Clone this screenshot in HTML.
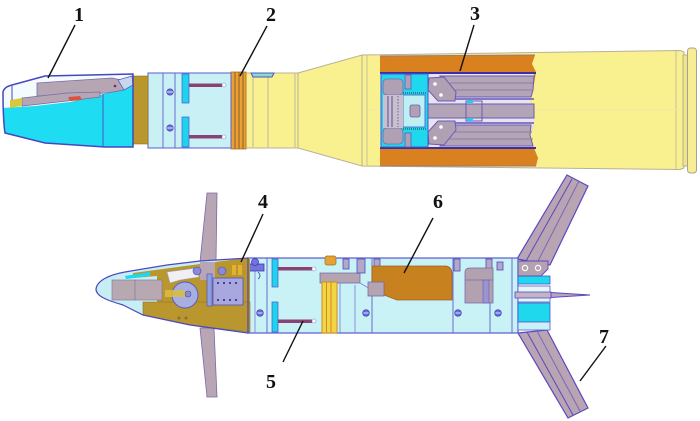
<!DOCTYPE html>
<html>
<head>
<meta charset="utf-8">
<style>
html,body{margin:0;padding:0;background:#fff;}
svg{display:block;}
text{font-family:"Liberation Serif",serif;font-weight:bold;font-size:20px;fill:#111;}
</style>
</head>
<body>
<svg width="700" height="421" viewBox="0 0 700 421" xmlns="http://www.w3.org/2000/svg">
<rect width="700" height="421" fill="#ffffff"/>

<!-- ================= TOP ROUND ================= -->
<!-- cartridge case body -->
<path d="M362,55 L680,50.5 L684,52 L684,168 L680,169.5 L362,166 Z" fill="#F9F18F" stroke="#B9B195" stroke-width="1"/>
<line x1="676" y1="51" x2="676" y2="169" stroke="#C8BE98" stroke-width="1"/>
<rect x="683" y="55" width="5" height="111" fill="#EEE48C" stroke="#B8B090" stroke-width="1"/>
<rect x="687.5" y="48" width="9" height="125" rx="3" fill="#F6ED94" stroke="#A9A190" stroke-width="1"/>
<line x1="362" y1="110" x2="680" y2="110" stroke="#F3E9A8" stroke-width="1"/>
<!-- cone -->
<path d="M298,73 L362,55 L362,166 L298,148 Z" fill="#F9F18F" stroke="#B9B195" stroke-width="1"/>
<line x1="367" y1="55" x2="367" y2="166" stroke="#C8BE98" stroke-width="1"/>
<!-- front yellow section -->
<rect x="246" y="73" width="52" height="75" fill="#F9F18F" stroke="#B9B195" stroke-width="1"/>
<line x1="253" y1="73" x2="253" y2="148" stroke="#D3C99A" stroke-width="1.5"/>
<line x1="268" y1="73" x2="268" y2="148" stroke="#D3C99A" stroke-width="1.5"/>
<line x1="295" y1="73" x2="295" y2="148" stroke="#D3C99A" stroke-width="1.5"/>
<path d="M251,73 L274,73 L272,77 L253,77 Z" fill="#8FD8D0" stroke="#4A58C8" stroke-width="1"/>

<!-- cutaway: orange charge -->
<path d="M380,56 L535,55 L532,64 L536,72 L533,90 L530,100 L534,110 L534,125 L530,135 L534,148 L538,158 L536,166 L380,166 Z" fill="#D9801F"/>
<line x1="380" y1="56" x2="535" y2="55" stroke="#9A7A80" stroke-width="1"/>
<line x1="380" y1="166" x2="536" y2="166" stroke="#9A7A80" stroke-width="1"/>
<!-- inner -->
<path d="M380,73 L534,73 L533,90 L530,100 L534,110 L534,125 L530,135 L534,148 L380,148 Z" fill="#E7E3EF"/>
<line x1="380" y1="73" x2="536" y2="73" stroke="#3C2EA8" stroke-width="2"/>
<line x1="380" y1="148" x2="536" y2="148" stroke="#3C2EA8" stroke-width="2"/>
<!-- long rods -->
<path d="M440,76 L534,76 L533,90 L531,97 L455,97 Z" fill="#B4A4B8" stroke="#6A5AB0" stroke-width="1"/>
<line x1="450" y1="83" x2="533" y2="83" stroke="#8E7EA0" stroke-width="1"/>
<line x1="452" y1="90" x2="533" y2="90" stroke="#8E7EA0" stroke-width="1"/>
<path d="M455,125 L531,125 L530,135 L533,146 L440,146 Z" fill="#B4A4B8" stroke="#6A5AB0" stroke-width="1"/>
<line x1="452" y1="132" x2="532" y2="132" stroke="#8E7EA0" stroke-width="1"/>
<line x1="450" y1="139" x2="533" y2="139" stroke="#8E7EA0" stroke-width="1"/>
<line x1="440" y1="99" x2="534" y2="99" stroke="#4A3AB0" stroke-width="1.2"/>
<line x1="440" y1="123" x2="534" y2="123" stroke="#4A3AB0" stroke-width="1.2"/>
<!-- center bar -->
<rect x="420" y="104" width="114" height="14" fill="#B4A4B8" stroke="#6A5AB0" stroke-width="1"/>
<rect x="466" y="101" width="16" height="20" fill="none" stroke="#6A5AB0" stroke-width="1"/>
<rect x="467" y="100" width="6" height="3" fill="#1ED0EE"/>
<rect x="467" y="118" width="6" height="3" fill="#1ED0EE"/>
<!-- hinge plates -->
<path d="M429,78 L444,77 L456,92 L455,101 L438,101 L428,90 Z" fill="#B0A0B4" stroke="#6A5AB0" stroke-width="1"/>
<circle cx="435" cy="84" r="1.8" fill="#fff"/>
<circle cx="441" cy="95" r="1.8" fill="#fff"/>
<path d="M429,144 L444,145 L456,130 L455,121 L438,121 L428,132 Z" fill="#B0A0B4" stroke="#6A5AB0" stroke-width="1"/>
<circle cx="435" cy="138" r="1.8" fill="#fff"/>
<circle cx="441" cy="127" r="1.8" fill="#fff"/>
<!-- cyan block -->
<rect x="381" y="74" width="47" height="73" fill="#1FD8EE" stroke="#4A58C8" stroke-width="1"/>
<rect x="403" y="95" width="22" height="32" fill="#BDEFF3" stroke="#4A58C8" stroke-width="0.8"/>
<rect x="410" y="105" width="10" height="12" rx="2" fill="#B0A0B4" stroke="#6A5AB0" stroke-width="0.8"/>
<rect x="383" y="79" width="20" height="16" rx="4" fill="#B0A0B4" stroke="#7A6AA8" stroke-width="0.8"/>
<rect x="383" y="128" width="20" height="16" rx="4" fill="#B0A0B4" stroke="#7A6AA8" stroke-width="0.8"/>
<rect x="383" y="95" width="20" height="33" fill="#C8C0CC"/>
<line x1="388" y1="96" x2="388" y2="127" stroke="#5A4AA0" stroke-width="1"/>
<line x1="392" y1="96" x2="392" y2="127" stroke="#5A4AA0" stroke-width="1"/>
<line x1="398" y1="96" x2="398" y2="127" stroke="#5A4AA0" stroke-width="0.8" stroke-dasharray="1.5,1.5"/>
<rect x="405" y="75" width="6" height="14" fill="#B0A0B4" stroke="#4A58C8" stroke-width="0.7"/>
<rect x="405" y="133" width="6" height="14" fill="#B0A0B4" stroke="#4A58C8" stroke-width="0.7"/>
<line x1="403" y1="93" x2="426" y2="93" stroke="#333" stroke-width="1" stroke-dasharray="1,1"/>
<line x1="403" y1="129" x2="426" y2="129" stroke="#333" stroke-width="1" stroke-dasharray="1,1"/>

<!-- driving band -->
<rect x="231" y="72" width="15" height="77" fill="#E9A231" stroke="#B07020" stroke-width="0.8"/>
<line x1="235" y1="72" x2="235" y2="149" stroke="#8A5A30" stroke-width="1"/>
<line x1="239" y1="72" x2="239" y2="149" stroke="#8A5A30" stroke-width="1"/>
<line x1="243" y1="72" x2="243" y2="149" stroke="#8A5A30" stroke-width="1"/>

<!-- light cyan body section -->
<rect x="148" y="73" width="83" height="75" fill="#C9F1F5" stroke="#5A5AD0" stroke-width="1"/>
<line x1="163" y1="73" x2="163" y2="148" stroke="#6A6AD0" stroke-width="1"/>
<line x1="175" y1="73" x2="175" y2="148" stroke="#6A6AD0" stroke-width="1"/>
<rect x="182" y="74" width="7" height="29" fill="#1FD2EE" stroke="#4A58C8" stroke-width="0.7"/>
<rect x="182" y="117" width="7" height="30" fill="#1FD2EE" stroke="#4A58C8" stroke-width="0.7"/>
<rect x="189" y="83.5" width="33" height="3.5" fill="#8A4272"/>
<rect x="189" y="135" width="33" height="3.5" fill="#8A4272"/>
<circle cx="224" cy="85" r="2" fill="#fff" stroke="#8A8AD0" stroke-width="0.6"/>
<circle cx="224" cy="137" r="2" fill="#fff" stroke="#8A8AD0" stroke-width="0.6"/>
<circle cx="170" cy="92" r="3.2" fill="#7070D8" stroke="#3A3AB0" stroke-width="0.7"/>
<line x1="167" y1="92" x2="173" y2="92" stroke="#fff" stroke-width="0.8"/>
<circle cx="170" cy="128" r="3.2" fill="#7070D8" stroke="#3A3AB0" stroke-width="0.7"/>
<line x1="167" y1="128" x2="173" y2="128" stroke="#fff" stroke-width="0.8"/>

<!-- olive band -->
<rect x="133" y="76" width="15" height="68" fill="#B9962E" stroke="#8A7020" stroke-width="0.6"/>

<!-- nose (sabot) -->
<path d="M3,92 Q4,87 12,85 L45,76 L133,74 L133,147 L105,147 L45,143 L5,133 Q3,120 3,92 Z" fill="#F4FBFC"/>
<!-- cyan lower part -->
<path d="M3,108 L35,106 L70,102 L100,95 L133,86 L133,147 L105,147 L45,143 L5,133 Z" fill="#1EDCF1"/>
<line x1="103" y1="94" x2="103" y2="147" stroke="#4A58C8" stroke-width="1"/>
<!-- gray pieces -->
<path d="M37,83 L112,78 L121,80 L124,90 L107,93 L37,96 Z" fill="#B6A6B4" stroke="#7A6AA8" stroke-width="0.8"/>
<circle cx="115" cy="86" r="1.3" fill="#8A2050"/>
<path d="M22,98 L67,93 L100,92 L100,97 L67,101 L22,106 Z" fill="#B6A6B4" stroke="#7A6AA8" stroke-width="0.8"/>
<path d="M10,100 L22,98 L22,106 L10,108 Z" fill="#D8C840"/>
<path d="M68,97 L80,96 L82,100 L70,101 Z" fill="#E05040"/>
<path d="M118,80 L132,76 L133,85 L124,90 Z" fill="#C9D8E8" stroke="#5A5AD0" stroke-width="0.8"/>
<path d="M3,92 Q4,87 12,85 L45,76 L133,74 L133,147 L105,147 L45,143 L5,133 Q3,120 3,92 Z" fill="none" stroke="#4646C0" stroke-width="1.5"/>
<line x1="12" y1="86" x2="12" y2="100" stroke="#4646C0" stroke-width="1"/>

<!-- ================= BOTTOM PROJECTILE ================= -->
<!-- front fins -->
<path d="M207,193 L217,193 L216,262 L200,262 Z" fill="#B8A6B4" stroke="#7A6AA8" stroke-width="0.8"/>
<path d="M200,328 L214,328 L217,397 L207,397 Z" fill="#B8A6B4" stroke="#7A6AA8" stroke-width="0.8"/>

<!-- tail fins -->
<path d="M517,259 L550,265 L588,186 L567,175 Z" fill="#B8A4B2" stroke="#5A48C0" stroke-width="1.2"/>
<line x1="526" y1="261" x2="572" y2="179" stroke="#5A48C0" stroke-width="1"/>
<line x1="537" y1="263" x2="579" y2="181" stroke="#7A68B8" stroke-width="1"/>
<path d="M518,333 L547,330 L588,408 L568,418 Z" fill="#B8A4B2" stroke="#5A48C0" stroke-width="1.2"/>
<line x1="527" y1="332" x2="573" y2="415" stroke="#5A48C0" stroke-width="1"/>
<line x1="537" y1="331" x2="580" y2="411" stroke="#7A68B8" stroke-width="1"/>

<!-- main body -->
<rect x="248" y="258" width="270" height="75" fill="#C9F2F6" stroke="#5A5AD0" stroke-width="1.2"/>
<line x1="255" y1="258" x2="255" y2="333" stroke="#7A7AD8" stroke-width="0.8"/>
<line x1="267" y1="258" x2="267" y2="333" stroke="#6A6AD0" stroke-width="1"/>
<line x1="340" y1="282" x2="340" y2="333" stroke="#7A7AD8" stroke-width="0.8"/>
<line x1="355" y1="285" x2="355" y2="333" stroke="#7A7AD8" stroke-width="0.8"/>
<line x1="372" y1="258" x2="372" y2="333" stroke="#6A6AD0" stroke-width="1"/>
<line x1="453" y1="258" x2="453" y2="333" stroke="#6A6AD0" stroke-width="1"/>
<line x1="490" y1="258" x2="490" y2="333" stroke="#6A6AD0" stroke-width="1"/>
<line x1="512" y1="258" x2="512" y2="333" stroke="#6A6AD0" stroke-width="1"/>
<!-- cyan bars & rods -->
<rect x="272" y="259" width="6" height="28" fill="#1FD2EE" stroke="#4A58C8" stroke-width="0.7"/>
<rect x="272" y="302" width="6" height="30" fill="#1FD2EE" stroke="#4A58C8" stroke-width="0.7"/>
<rect x="278" y="267" width="34" height="3.5" fill="#8A4272"/>
<rect x="278" y="319.5" width="34" height="3.5" fill="#8A4272"/>
<circle cx="314" cy="269" r="2" fill="#fff" stroke="#8A8AD0" stroke-width="0.6"/>
<circle cx="314" cy="321" r="2" fill="#fff" stroke="#8A8AD0" stroke-width="0.6"/>
<!-- middle assembly -->
<rect x="325" y="256" width="11" height="9" rx="2" fill="#E3A232" stroke="#A07020" stroke-width="0.7"/>
<path d="M320,273 L360,273 L360,283 L337,283 L320,283 Z" fill="#B4A4B0" stroke="#7A6AA8" stroke-width="0.8"/>
<path d="M337,283 L360,283 L372,290" fill="none" stroke="#7A7AD8" stroke-width="0.8"/>
<rect x="322" y="282" width="15" height="51" fill="#F2D544" stroke="#D08A20" stroke-width="1"/>
<line x1="326.5" y1="282" x2="326.5" y2="333" stroke="#D08A20" stroke-width="1"/>
<line x1="331" y1="282" x2="331" y2="333" stroke="#D08A20" stroke-width="1"/>
<!-- top fasteners -->
<g fill="#B4A8C8" stroke="#4A4AC0" stroke-width="0.8">
<rect x="343" y="259" width="6" height="10"/>
<rect x="357" y="259" width="8" height="14"/>
<rect x="374" y="259" width="6" height="12"/>
<rect x="454" y="259" width="6" height="12"/>
<rect x="486" y="259" width="6" height="12"/>
<rect x="497" y="262" width="6" height="8"/>
</g>
<!-- near-nose blue fittings -->
<g fill="#7474DC" stroke="#3A3AB0" stroke-width="0.8">
<rect x="248" y="264" width="16" height="7"/>
<circle cx="255" cy="262" r="3.5"/>
<path d="M258,272 Q262,276 258,279" fill="none"/>
</g>
<!-- screws -->
<g fill="#6A6AD8" stroke="#3A3AB0" stroke-width="0.7">
<circle cx="260" cy="313" r="3.3"/>
<circle cx="366" cy="313" r="3.3"/>
<circle cx="458" cy="313" r="3.3"/>
<circle cx="498" cy="313" r="3.3"/>
</g>
<g stroke="#fff" stroke-width="0.8">
<line x1="257.5" y1="313" x2="262.5" y2="313"/>
<line x1="363.5" y1="313" x2="368.5" y2="313"/>
<line x1="455.5" y1="313" x2="460.5" y2="313"/>
<line x1="495.5" y1="313" x2="500.5" y2="313"/>
</g>
<!-- orange element 6 -->
<path d="M372,266 L446,266 Q452,267 452,274 L452,300 L397,300 L384,295 L384,283 L372,283 Z" fill="#C8811F" stroke="#9A6228" stroke-width="0.8"/>
<rect x="368" y="282" width="16" height="14" fill="#B4A4B0" stroke="#7A6AA8" stroke-width="0.8"/>
<!-- gray box right -->
<path d="M465,272 Q465,268 470,268 L493,268 L493,303 L465,303 Z" fill="#B2A2B0" stroke="#7A6AA8" stroke-width="0.8"/>
<rect x="483" y="280" width="6" height="23" fill="#9C94D0" stroke="#6A5AB0" stroke-width="0.6"/>
<line x1="465" y1="280" x2="493" y2="280" stroke="#7A6AA8" stroke-width="0.8"/>
<!-- tail section -->
<rect x="518" y="276" width="32" height="8" fill="#1FD8EE" stroke="#4A58C8" stroke-width="0.8"/>
<rect x="518" y="303" width="32" height="19" fill="#1FD8EE" stroke="#4A58C8" stroke-width="0.8"/>
<rect x="518" y="322" width="32" height="8" fill="#C9F2F6" stroke="#5A5AD0" stroke-width="0.8"/>
<rect x="518" y="286" width="32" height="16" fill="#E4F6F8" stroke="#5A5AD0" stroke-width="0.8"/>
<rect x="515" y="292" width="36" height="6" fill="#C4B4C8" stroke="#5A48C0" stroke-width="0.8"/>
<path d="M551,292.5 L590,295 L551,297.5 Z" fill="#B8A4C0" stroke="#5A48C0" stroke-width="0.9"/>
<path d="M518,261 L548,261 L548,269 L541,276 L518,276 Z" fill="#B4A2B0" stroke="#5A48C0" stroke-width="0.9"/>
<circle cx="525" cy="268" r="2.6" fill="none" stroke="#fff" stroke-width="1.2"/>
<circle cx="538" cy="268" r="2.6" fill="none" stroke="#fff" stroke-width="1.2"/>

<!-- nose -->
<path d="M96,289 C97,281 108,275 125,272 L167,265 L200,261 L248,258 L248,333 L190,325 L143,315 L123,305 C106,300 96,296 96,289 Z" fill="#C6EEF4"/>
<!-- olive main parts -->
<path d="M133,273 L245,258 L250,258 L250,307 L157,307 L157,276 L133,278 Z" fill="#B9962E"/>
<path d="M143,302 L250,302 L250,332 L190,325 L143,315 Z" fill="#B9962E" stroke="#8A7020" stroke-width="0.6"/>
<circle cx="179" cy="318" r="1.5" fill="#8A7040"/>
<circle cx="186" cy="318" r="1.5" fill="#8A7040"/>
<!-- cyan top strip -->
<path d="M125,276 L150,272 L150,276 L126,279 Z" fill="#1ED8EE"/>
<!-- gray blocks -->
<rect x="112" y="280" width="23" height="20" fill="#B8A8B2" stroke="#8A7AA0" stroke-width="0.7"/>
<rect x="135" y="280" width="27" height="20" fill="#B8A8B2" stroke="#8A7AA0" stroke-width="0.7"/>
<!-- white curved piece -->
<path d="M167,272 L197,268 L199,277 L180,280 L170,283 Z" fill="#F0F0F4" stroke="#A0A0C0" stroke-width="0.6"/>
<!-- fin through nose -->
<rect x="200" y="262" width="15" height="18" fill="#B8A6B4"/>
<!-- circle mechanism -->
<circle cx="185" cy="295" r="13" fill="#A8AEE0" stroke="#5A5AC0" stroke-width="1"/>
<circle cx="188" cy="294" r="3" fill="#8A8AC8" stroke="#4A4AB0" stroke-width="0.6"/>
<rect x="165" y="290" width="20" height="7" fill="#D8C040" opacity="0.85"/>
<!-- blue small elements -->
<circle cx="197" cy="271" r="4" fill="#8A8ADC" stroke="#4A4AB0" stroke-width="0.6"/>
<circle cx="222" cy="271" r="4" fill="#8A8ADC" stroke="#4A4AB0" stroke-width="0.6"/>
<rect x="207" y="274" width="5" height="32" fill="#8EA0E4" stroke="#4A4AB0" stroke-width="0.6"/>
<!-- dotted block -->
<rect x="213" y="278" width="30" height="27" fill="#A8A8DE" stroke="#5050C0" stroke-width="0.8"/>
<g fill="#3A3A90">
<circle cx="218" cy="283" r="1.1"/><circle cx="224" cy="283" r="1.1"/><circle cx="230" cy="283" r="1.1"/><circle cx="236" cy="283" r="1.1"/>
<circle cx="218" cy="300" r="1.1"/><circle cx="224" cy="300" r="1.1"/><circle cx="230" cy="300" r="1.1"/><circle cx="236" cy="300" r="1.1"/>
</g>
<rect x="232" y="265" width="4" height="10" fill="#E3B030"/>
<rect x="238" y="265" width="4" height="10" fill="#E3B030"/>
<!-- nose outline -->
<path d="M96,289 C97,281 108,275 125,272 L167,265 L200,261 L248,258 L248,333 L190,325 L143,315 L123,305 C106,300 96,296 96,289 Z" fill="none" stroke="#4A48C0" stroke-width="1.2"/>

<!-- ================= LABELS & LEADERS ================= -->
<g stroke="#111" stroke-width="1.4" fill="none">
<line x1="75" y1="25" x2="48" y2="78"/>
<line x1="267" y1="26" x2="240" y2="76"/>
<line x1="474" y1="25" x2="460" y2="71"/>
<line x1="263" y1="214" x2="241" y2="262"/>
<line x1="283" y1="362" x2="303" y2="321"/>
<line x1="433" y1="218" x2="404" y2="273"/>
<line x1="606" y1="346" x2="580" y2="381"/>
</g>
<text x="79" y="21" text-anchor="middle">1</text>
<text x="271" y="21" text-anchor="middle">2</text>
<text x="475" y="20" text-anchor="middle">3</text>
<text x="263" y="208" text-anchor="middle">4</text>
<text x="271" y="388" text-anchor="middle">5</text>
<text x="438" y="208" text-anchor="middle">6</text>
<text x="604" y="343" text-anchor="middle">7</text>
</svg>
</body>
</html>
